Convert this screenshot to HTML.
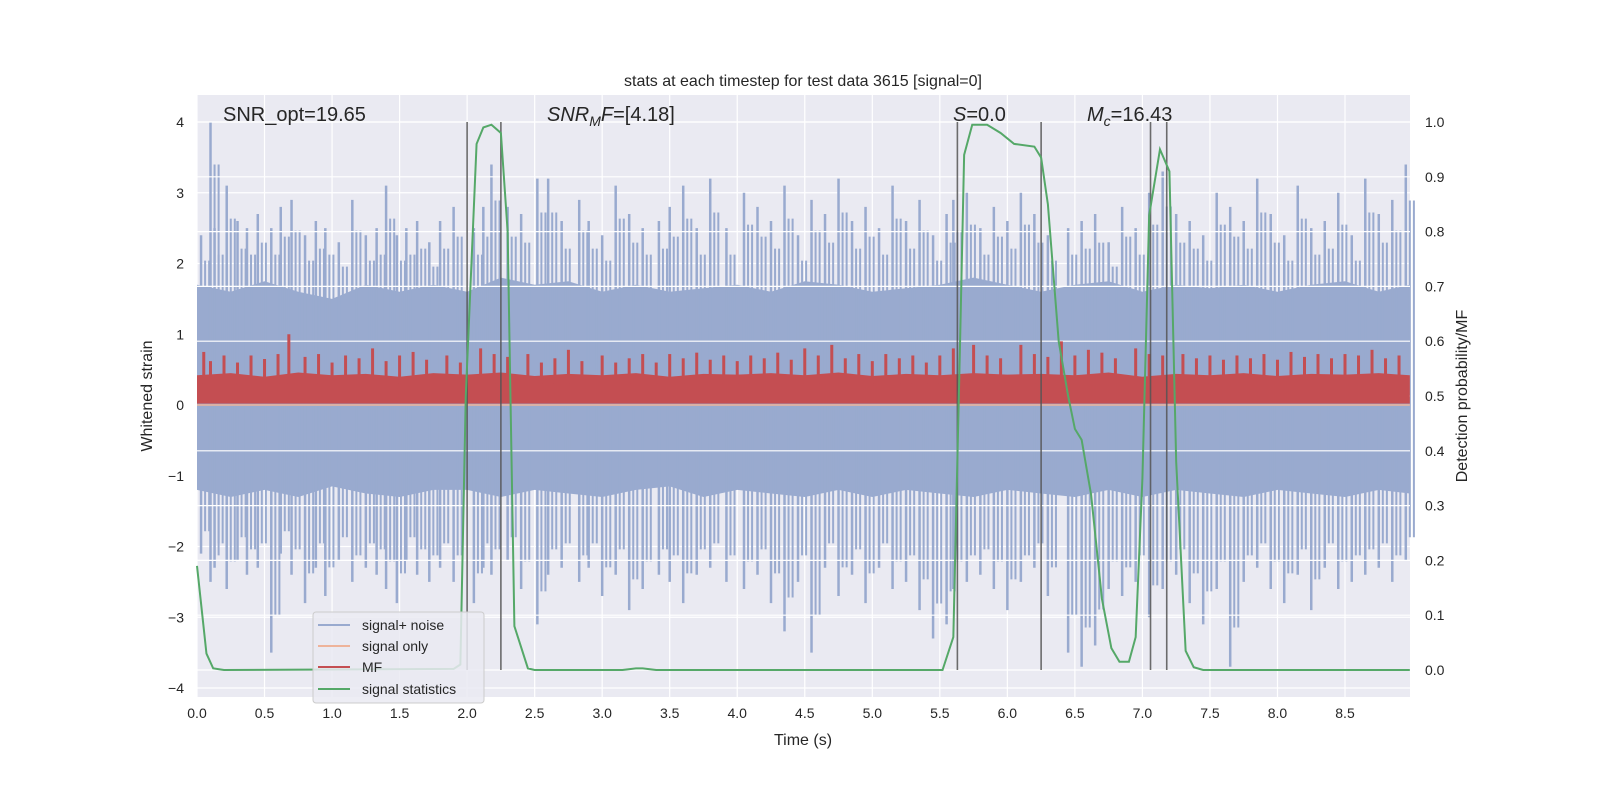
<!DOCTYPE html>
<html><head><meta charset="utf-8"><style>
html,body{margin:0;padding:0;background:#fff;overflow:hidden;width:1600px;height:800px;}
svg{display:block;}
svg text{font-family:"Liberation Sans","DejaVu Sans",sans-serif;}
</style></head><body>
<svg id="chart" width="1600" height="800" xmlns="http://www.w3.org/2000/svg">
<rect x="0" y="0" width="1600" height="800" fill="#ffffff"/>
<rect x="197" y="95" width="1213" height="602" fill="#eaeaf2"/>
<g id="gridL"></g><g id="noise"></g><g id="gridR"></g><g id="mf"></g><g id="vlines"></g><g id="stat"></g><g id="axes"></g>
<text x="803" y="86" font-size="16" text-anchor="middle" fill="#262626">stats at each timestep for test data 3615 [signal=0]</text>
<text x="223" y="121" font-size="20" fill="#262626">SNR_opt=19.65</text>
<text x="547" y="121" font-size="20" fill="#262626"><tspan font-style="italic">SNR</tspan><tspan font-style="italic" font-size="14" dy="5">M</tspan><tspan font-style="italic" dy="-5">F</tspan>=[4.18]</text>
<text x="953" y="121" font-size="20" fill="#262626"><tspan font-style="italic">S</tspan>=0.0</text>
<text x="1087" y="121" font-size="20" fill="#262626"><tspan font-style="italic">M</tspan><tspan font-style="italic" font-size="14" dy="5">c</tspan><tspan dy="-5">=16.43</tspan></text>
<text x="803" y="745" font-size="16" text-anchor="middle" fill="#262626">Time (s)</text>
<text transform="translate(152,396) rotate(-90)" font-size="16" text-anchor="middle" fill="#262626">Whitened strain</text>
<text transform="translate(1467,396) rotate(-90)" font-size="16" text-anchor="middle" fill="#262626">Detection probability/MF</text>
<g>
<rect x="313" y="612" width="171" height="91" rx="3" fill="#eaeaf2" fill-opacity="0.85" stroke="#cccccc"/>
<line x1="318" y1="625" x2="350" y2="625" stroke="#99aacf" stroke-width="2"/><text x="362" y="630" font-size="14" fill="#262626">signal+ noise</text>
<line x1="318" y1="646" x2="350" y2="646" stroke="#eeb39a" stroke-width="2"/><text x="362" y="651" font-size="14" fill="#262626">signal only</text>
<line x1="318" y1="667" x2="350" y2="667" stroke="#c44e52" stroke-width="2"/><text x="362" y="672" font-size="14" fill="#262626">MF</text>
<line x1="318" y1="689" x2="350" y2="689" stroke="#55a868" stroke-width="2"/><text x="362" y="694" font-size="14" fill="#262626">signal statistics</text>
</g>
</svg>
<script>
const xTicks=[0,0.5,1,1.5,2,2.5,3,3.5,4,4.5,5,5.5,6,6.5,7,7.5,8,8.5];
const yTicks=[-4,-3,-2,-1,0,1,2,3,4];
const y2Ticks=[0,0.1,0.2,0.3,0.4,0.5,0.6,0.7,0.8,0.9,1.0];
const bandT=[0,0.25,0.5,0.75,1,1.25,1.5,1.75,2,2.25,2.5,2.75,3,3.25,3.5,3.75,4,4.25,4.5,4.75,5,5.25,5.5,5.75,6,6.25,6.5,6.75,7,7.25,7.5,7.75,8,8.25,8.5,8.75,8.98];
const bandTop=[1.7,1.6,1.75,1.6,1.5,1.7,1.6,1.7,1.6,1.8,1.7,1.75,1.6,1.7,1.6,1.65,1.7,1.6,1.75,1.7,1.6,1.65,1.7,1.8,1.7,1.6,1.7,1.75,1.6,1.7,1.65,1.7,1.6,1.7,1.75,1.6,1.7];
const bandBot=[-1.2,-1.3,-1.2,-1.3,-1.15,-1.25,-1.3,-1.2,-1.2,-1.3,-1.2,-1.25,-1.3,-1.2,-1.15,-1.3,-1.2,-1.25,-1.3,-1.2,-1.3,-1.2,-1.25,-1.3,-1.2,-1.25,-1.3,-1.2,-1.3,-1.2,-1.25,-1.3,-1.2,-1.25,-1.3,-1.2,-1.25];
const spikeT=[0.03,0.1,0.13,0.22,0.3,0.37,0.45,0.55,0.62,0.7,0.8,0.88,0.95,1.05,1.15,1.25,1.33,1.4,1.48,1.55,1.63,1.72,1.8,1.9,2.05,2.12,2.18,2.3,2.4,2.52,2.6,2.7,2.83,2.9,3.0,3.1,3.2,3.3,3.42,3.5,3.6,3.7,3.8,3.92,4.05,4.15,4.25,4.35,4.45,4.55,4.65,4.75,4.85,4.95,5.05,5.15,5.25,5.35,5.45,5.55,5.6,5.7,5.8,5.9,6.0,6.1,6.2,6.3,6.45,6.55,6.65,6.75,6.85,6.95,7.05,7.15,7.25,7.35,7.45,7.55,7.65,7.75,7.85,7.95,8.05,8.15,8.25,8.35,8.45,8.55,8.65,8.75,8.85,8.95];
const spikeUp=[2.4,4.0,2.5,3.1,2.6,2.5,2.7,2.5,2.8,2.9,2.4,2.6,2.5,2.3,2.9,2.4,2.5,3.1,2.4,2.5,2.6,2.3,2.6,2.8,2.5,2.8,3.4,2.8,2.7,3.2,3.2,2.6,2.9,2.6,2.4,3.1,2.7,2.5,2.6,2.8,3.1,2.5,3.2,2.5,3.0,2.8,2.6,3.1,2.4,2.9,2.7,3.2,2.6,2.8,2.5,3.1,2.6,2.9,2.4,2.7,2.9,3.0,2.5,2.8,2.6,3.0,2.7,2.4,2.5,2.6,2.7,2.3,2.8,2.5,3.0,3.3,2.7,2.6,2.4,3.0,2.8,2.6,3.2,2.7,2.4,3.1,2.5,2.6,3.0,2.4,3.2,2.7,2.9,3.4];
const spikeDn=[-2.1,-2.5,-2.3,-2.6,-2.2,-2.4,-2.3,-3.5,-2.1,-2.4,-2.8,-2.3,-2.7,-2.2,-2.5,-2.3,-2.4,-2.6,-2.8,-2.2,-2.4,-2.5,-2.3,-2.5,-2.8,-2.3,-2.4,-2.2,-2.6,-3.1,-2.4,-2.3,-2.5,-2.3,-2.7,-2.4,-2.9,-2.6,-2.4,-2.5,-2.8,-2.4,-2.3,-2.5,-2.6,-2.4,-2.8,-3.2,-2.5,-3.5,-2.3,-2.7,-2.4,-2.8,-2.3,-2.6,-2.5,-2.9,-3.3,-3.1,-2.6,-2.5,-2.4,-2.6,-2.9,-2.5,-2.3,-2.7,-3.5,-3.7,-3.4,-2.6,-2.7,-2.5,-3.0,-2.6,-2.4,-2.8,-3.1,-2.6,-3.7,-2.5,-2.3,-2.6,-2.8,-2.4,-2.9,-2.3,-2.6,-2.5,-2.4,-2.3,-2.5,-2.2];
const mfTop=[0.42,0.45,0.4,0.46,0.42,0.44,0.4,0.45,0.43,0.46,0.41,0.44,0.42,0.45,0.4,0.44,0.43,0.45,0.42,0.46,0.41,0.44,0.42,0.45,0.43,0.44,0.42,0.46,0.4,0.44,0.42,0.45,0.41,0.44,0.43,0.45,0.42];
const mfSpikeT=[0.05,0.1,0.2,0.3,0.4,0.5,0.6,0.68,0.8,0.9,1.0,1.1,1.2,1.3,1.4,1.5,1.6,1.7,1.85,1.95,2.1,2.2,2.3,2.45,2.55,2.65,2.75,2.85,3.0,3.1,3.2,3.3,3.4,3.5,3.6,3.7,3.8,3.9,4.0,4.1,4.2,4.3,4.4,4.5,4.6,4.7,4.8,4.9,5.0,5.1,5.2,5.3,5.4,5.5,5.6,5.75,5.85,5.95,6.1,6.2,6.3,6.4,6.5,6.6,6.7,6.8,6.95,7.05,7.15,7.3,7.4,7.5,7.6,7.7,7.8,7.9,8.0,8.1,8.2,8.3,8.4,8.5,8.6,8.7,8.8,8.9];
const mfSpikeV=[0.75,0.62,0.7,0.6,0.7,0.65,0.72,1.0,0.68,0.72,0.6,0.7,0.66,0.8,0.62,0.7,0.75,0.64,0.7,0.6,0.8,0.72,0.68,0.72,0.6,0.66,0.78,0.62,0.7,0.6,0.66,0.72,0.6,0.72,0.66,0.74,0.64,0.7,0.62,0.7,0.66,0.74,0.64,0.8,0.7,0.85,0.66,0.72,0.62,0.72,0.66,0.7,0.6,0.7,0.8,0.85,0.7,0.66,0.85,0.72,0.68,0.9,0.7,0.78,0.74,0.66,0.8,0.72,0.7,0.72,0.66,0.7,0.64,0.7,0.66,0.72,0.64,0.75,0.68,0.72,0.66,0.72,0.7,0.78,0.66,0.7];
const statT=[0,0.07,0.12,0.2,1.9,1.95,1.99,2.07,2.12,2.18,2.25,2.3,2.35,2.45,2.5,3.15,3.25,3.3,3.4,5.52,5.6,5.65,5.68,5.74,5.85,5.95,6.05,6.2,6.25,6.3,6.38,6.45,6.5,6.55,6.62,6.7,6.77,6.83,6.9,6.95,7.0,7.05,7.13,7.2,7.25,7.32,7.38,7.45,8.98];
const statP=[0.19,0.03,0.003,0,0.002,0.01,0.5,0.96,0.99,0.995,0.98,0.8,0.08,0.003,0,0,0.003,0.003,0,0,0.06,0.6,0.94,0.995,0.995,0.98,0.96,0.955,0.935,0.85,0.6,0.5,0.44,0.42,0.32,0.13,0.04,0.015,0.015,0.06,0.35,0.83,0.95,0.91,0.38,0.035,0.005,0,0];
const detT=[2.0,2.25,5.63,6.25,7.06,7.18];

const X=t=>197+t*135.06, Y=v=>405-v*70.75, Y2=p=>670-p*548;
const NS="http://www.w3.org/2000/svg";
function mk(tag,attrs,parent){const e=document.createElementNS(NS,tag);for(const k in attrs)e.setAttribute(k,attrs[k]);document.getElementById(parent).appendChild(e);return e;}
for(const t of xTicks){const l=mk('line',{x1:X(t),x2:X(t),y1:95,y2:697,stroke:'#fff','stroke-width':1.2},'gridL');


const tx=mk('text',{x:X(t),y:718,'font-size':14,'text-anchor':'middle',fill:'#262626'},'axes');tx.textContent=t.toFixed(1);

}
for(const v of yTicks){const l=mk('line',{x1:197,x2:1410,y1:Y(v),y2:Y(v),stroke:'#fff','stroke-width':1.2},'gridL');


const tx=mk('text',{x:184,y:Y(v)+5,'font-size':14,'text-anchor':'end',fill:'#262626'},'axes');tx.textContent=(v<0?'\u2212':'')+Math.abs(v);

}
for(const p of y2Ticks){const l=mk('line',{x1:197,x2:1410,y1:Y2(p),y2:Y2(p),stroke:'#fff','stroke-width':1.2},'gridR');


const tx=mk('text',{x:1425,y:Y2(p)+5,'font-size':14,fill:'#262626'},'axes');tx.textContent=p.toFixed(1);

}
let pts=bandT.map((t,i)=>X(t)+','+Y(bandTop[i])).concat(bandT.slice().reverse().map((t,i)=>X(t)+','+Y(bandBot[bandT.length-1-i])));
let band=mk('polygon',{points:pts.join(' '),fill:'#99aacf'},'noise');


spikeT.forEach((t,i)=>{
 const s=mk('line',{x1:X(t),x2:X(t),y1:Y(spikeUp[i]),y2:Y(spikeDn[i]),stroke:'#99aacf','stroke-width':2.5},'noise');
 
 
 for(const d of [0.03,0.06]){const s2=mk('line',{x1:X(t+d),x2:X(t+d),y1:Y(spikeUp[i]*0.85),y2:Y(spikeDn[i]*0.85),stroke:'#99aacf','stroke-width':2},'noise');
 
 }
});
let so=mk('line',{x1:X(0),x2:X(8.98),y1:Y(0),y2:Y(0),stroke:'#eeb39a','stroke-width':1.5},'mf');


pts=bandT.map((t,i)=>X(t)+','+Y(mfTop[i])).concat([X(8.98)+','+Y(0.02),X(0)+','+Y(0.02)]);
let mfb=mk('polygon',{points:pts.join(' '),fill:'#c44e52'},'mf');


mfSpikeT.forEach((t,i)=>{const s=mk('line',{x1:X(t),x2:X(t),y1:Y(mfSpikeV[i]),y2:Y(0.3),stroke:'#c44e52','stroke-width':3},'mf');

});
for(const t of detT){const l=mk('line',{x1:X(t),x2:X(t),y1:Y2(1),y2:Y2(0),stroke:'#555','stroke-width':1.6,'stroke-opacity':0.85},'vlines');

}
let sl=mk('polyline',{points:statT.map((t,i)=>X(t)+','+Y2(statP[i])).join(' '),fill:'none',stroke:'#55a868','stroke-width':2},'stat');


</script>
</body></html>
